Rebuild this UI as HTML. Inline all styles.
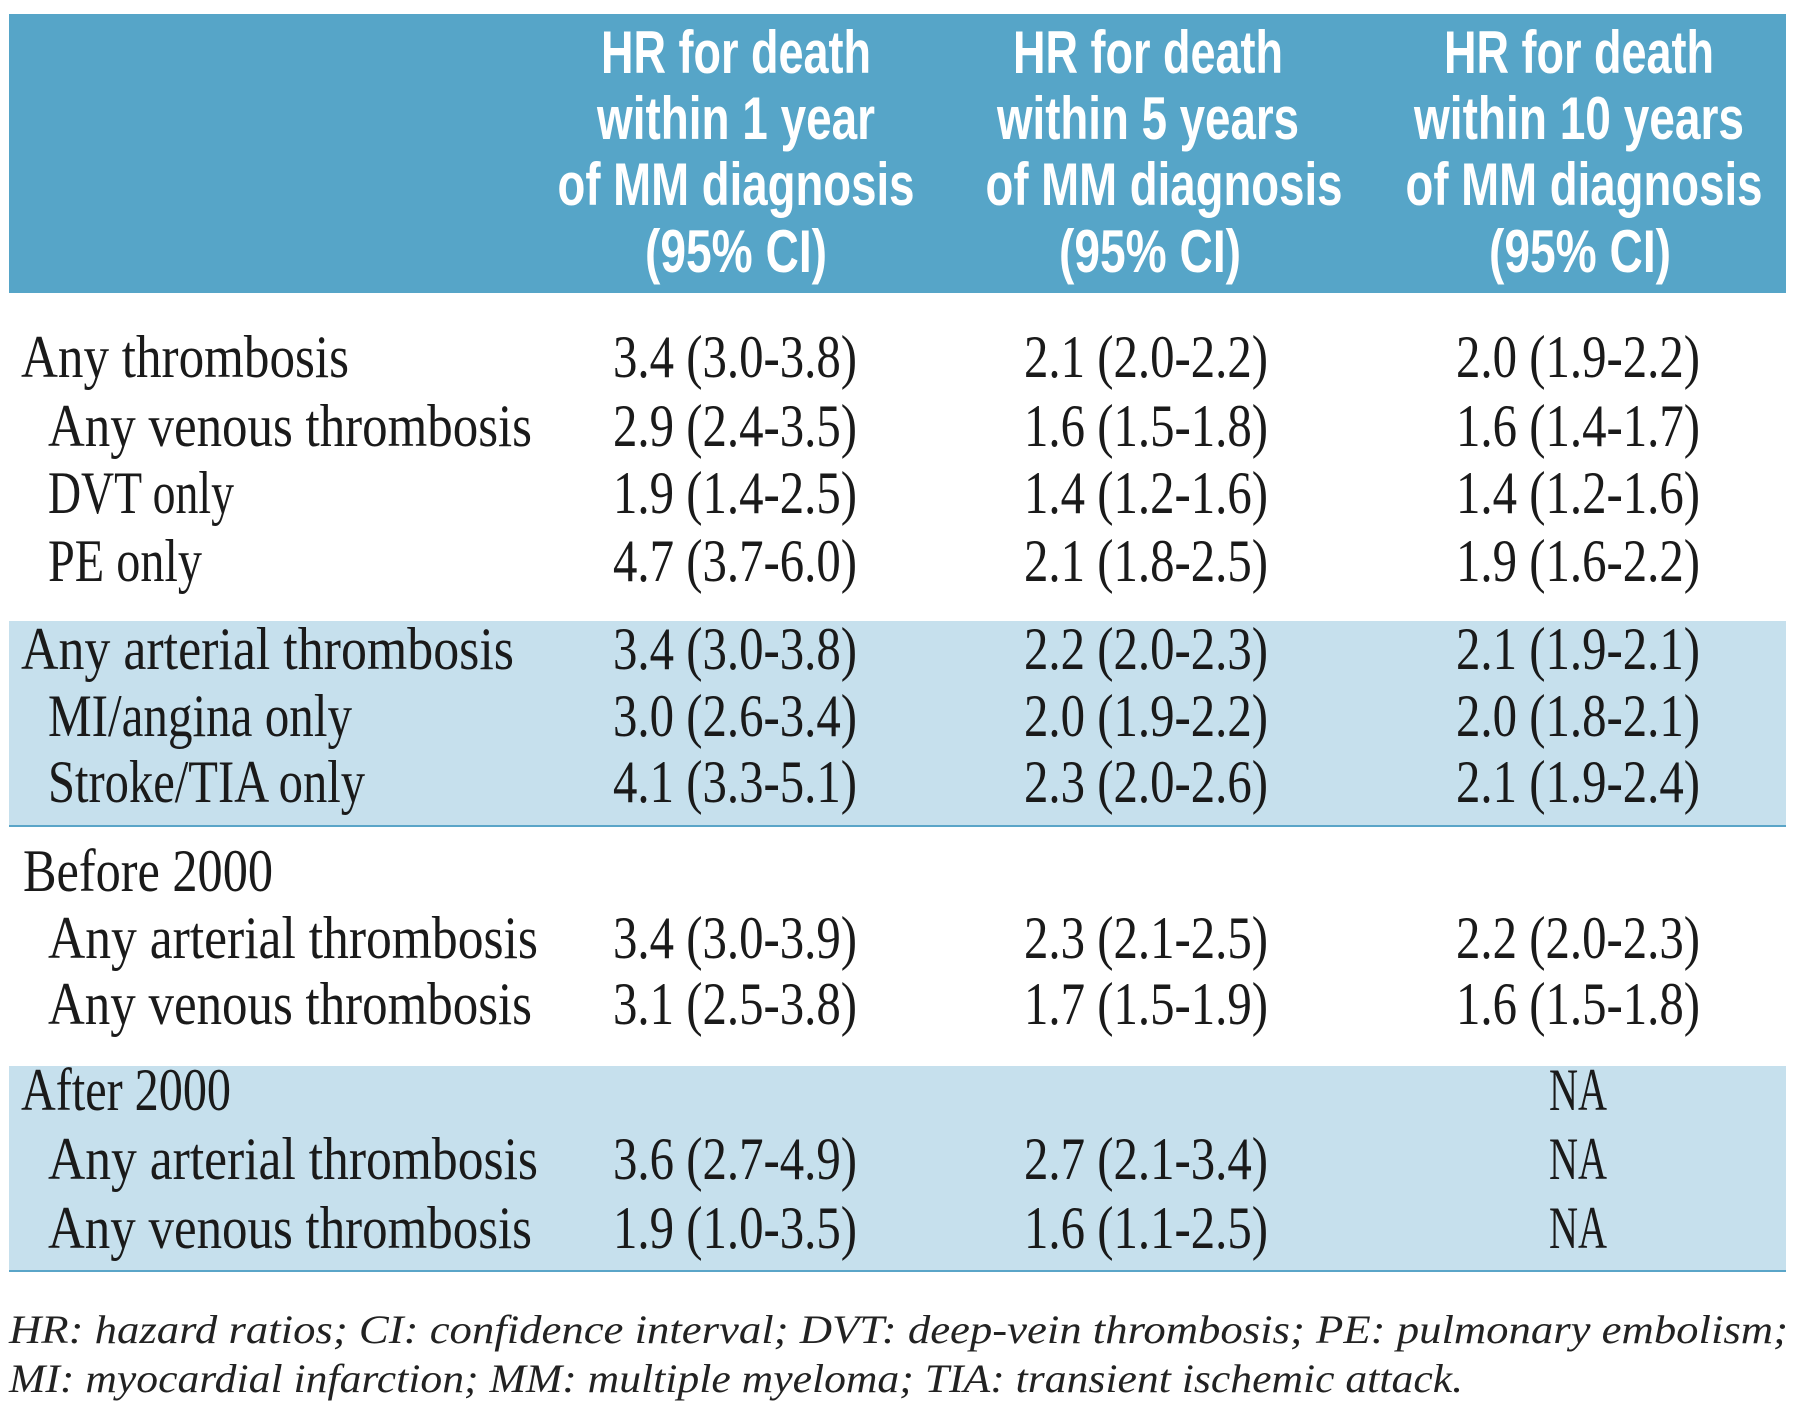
<!DOCTYPE html>
<html><head><meta charset="utf-8"><style>
html,body{margin:0;padding:0;background:#fff;}
svg{display:block;}
.h{font-family:"Liberation Sans Narrow","Liberation Sans",sans-serif;font-weight:bold;font-size:60px;fill:#fff;}
.t{font-family:"Liberation Serif",serif;font-size:60px;fill:#1a1a1a;}
.f{font-family:"Liberation Serif",serif;font-style:italic;font-size:40px;fill:#222;}
</style></head><body>
<svg width="1800" height="1419" viewBox="0 0 1800 1419">
<rect x="9" y="14" width="1777" height="279" fill="#56a5c8"/>
<rect x="9" y="621" width="1777" height="205" fill="#c6e0ed"/>
<rect x="9" y="1066" width="1777" height="205" fill="#c6e0ed"/>
<line x1="9" x2="1786" y1="826" y2="826" stroke="#5aa5c8" stroke-width="2"/>
<line x1="9" x2="1786" y1="1271" y2="1271" stroke="#5aa5c8" stroke-width="2"/>
<g text-anchor="middle">
<text class="h" x="736" y="73" textLength="270" lengthAdjust="spacingAndGlyphs">HR for death</text>
<text class="h" x="736" y="139" textLength="278" lengthAdjust="spacingAndGlyphs">within 1 year</text>
<text class="h" x="736" y="205" textLength="357" lengthAdjust="spacingAndGlyphs">of MM diagnosis</text>
<text class="h" x="736" y="272" textLength="182" lengthAdjust="spacingAndGlyphs">(95% CI)</text>
</g>
<g text-anchor="middle">
<text class="h" x="1148" y="73" textLength="270" lengthAdjust="spacingAndGlyphs">HR for death</text>
<text class="h" x="1148" y="139" textLength="302" lengthAdjust="spacingAndGlyphs">within 5 years</text>
<text class="h" x="1164" y="205" textLength="357" lengthAdjust="spacingAndGlyphs">of MM diagnosis</text>
<text class="h" x="1150" y="272" textLength="182" lengthAdjust="spacingAndGlyphs">(95% CI)</text>
</g>
<g text-anchor="middle">
<text class="h" x="1579" y="73" textLength="270" lengthAdjust="spacingAndGlyphs">HR for death</text>
<text class="h" x="1579" y="139" textLength="330" lengthAdjust="spacingAndGlyphs">within 10 years</text>
<text class="h" x="1584" y="205" textLength="357" lengthAdjust="spacingAndGlyphs">of MM diagnosis</text>
<text class="h" x="1580" y="272" textLength="182" lengthAdjust="spacingAndGlyphs">(95% CI)</text>
</g>
<g id="rows"></g>
<text class="f" x="9" y="1343" textLength="1779" lengthAdjust="spacingAndGlyphs">HR: hazard ratios; CI: confidence interval;  DVT: deep-vein thrombosis; PE: pulmonary embolism;</text>
<text class="f" x="9" y="1392" textLength="1454" lengthAdjust="spacingAndGlyphs">MI: myocardial infarction; MM: multiple myeloma; TIA: transient ischemic attack.</text>
</svg>
<script>
const labels=["Any thrombosis","Any venous thrombosis","DVT only","PE only","Any arterial thrombosis","MI/angina only","Stroke/TIA only","Before 2000","Any arterial thrombosis","Any venous thrombosis","After 2000","Any arterial thrombosis","Any venous thrombosis"];
const indent=[0,1,1,1,0,1,1,0,1,1,0,1,1];
const labelWidths=[328,484,186,154,493,304,317,250,490,484,210,490,484];
const rowY=[377,446,513,581,669,736,802,891,958,1024,1110,1179,1248];
const col1=["3.4 (3.0-3.8)","2.9 (2.4-3.5)","1.9 (1.4-2.5)","4.7 (3.7-6.0)","3.4 (3.0-3.8)","3.0 (2.6-3.4)","4.1 (3.3-5.1)","","3.4 (3.0-3.9)","3.1 (2.5-3.8)","","3.6 (2.7-4.9)","1.9 (1.0-3.5)"];
const col2=["2.1 (2.0-2.2)","1.6 (1.5-1.8)","1.4 (1.2-1.6)","2.1 (1.8-2.5)","2.2 (2.0-2.3)","2.0 (1.9-2.2)","2.3 (2.0-2.6)","","2.3 (2.1-2.5)","1.7 (1.5-1.9)","","2.7 (2.1-3.4)","1.6 (1.1-2.5)"];
const col3=["2.0 (1.9-2.2)","1.6 (1.4-1.7)","1.4 (1.2-1.6)","1.9 (1.6-2.2)","2.1 (1.9-2.1)","2.0 (1.8-2.1)","2.1 (1.9-2.4)","","2.2 (2.0-2.3)","1.6 (1.5-1.8)","NA","NA","NA"];
const colX=[735,1146,1578];
const NS="http://www.w3.org/2000/svg";
const g=document.getElementById('rows');
function txt(s,x,y,w,anchor){
  const t=document.createElementNS(NS,'text');
  t.setAttribute('class','t');
  t.setAttribute('x',x);t.setAttribute('y',y);
  if(anchor)t.setAttribute('text-anchor',anchor);
  if(w){t.setAttribute('textLength',w);t.setAttribute('lengthAdjust','spacingAndGlyphs');}
  t.textContent=s;g.appendChild(t);return t;
}
labels.forEach((l,i)=>{
  const a=txt(l,indent[i]?48:(i===7?23:21),rowY[i],labelWidths[i]);
  
  
  [col1,col2,col3].forEach((c,j)=>{
    if(!c[i])return;
    const w=c[i]==="NA"?58:244;
    const v=txt(c[i],colX[j],rowY[i],w,'middle');
    
    
  });
});
</script>
</body></html>
